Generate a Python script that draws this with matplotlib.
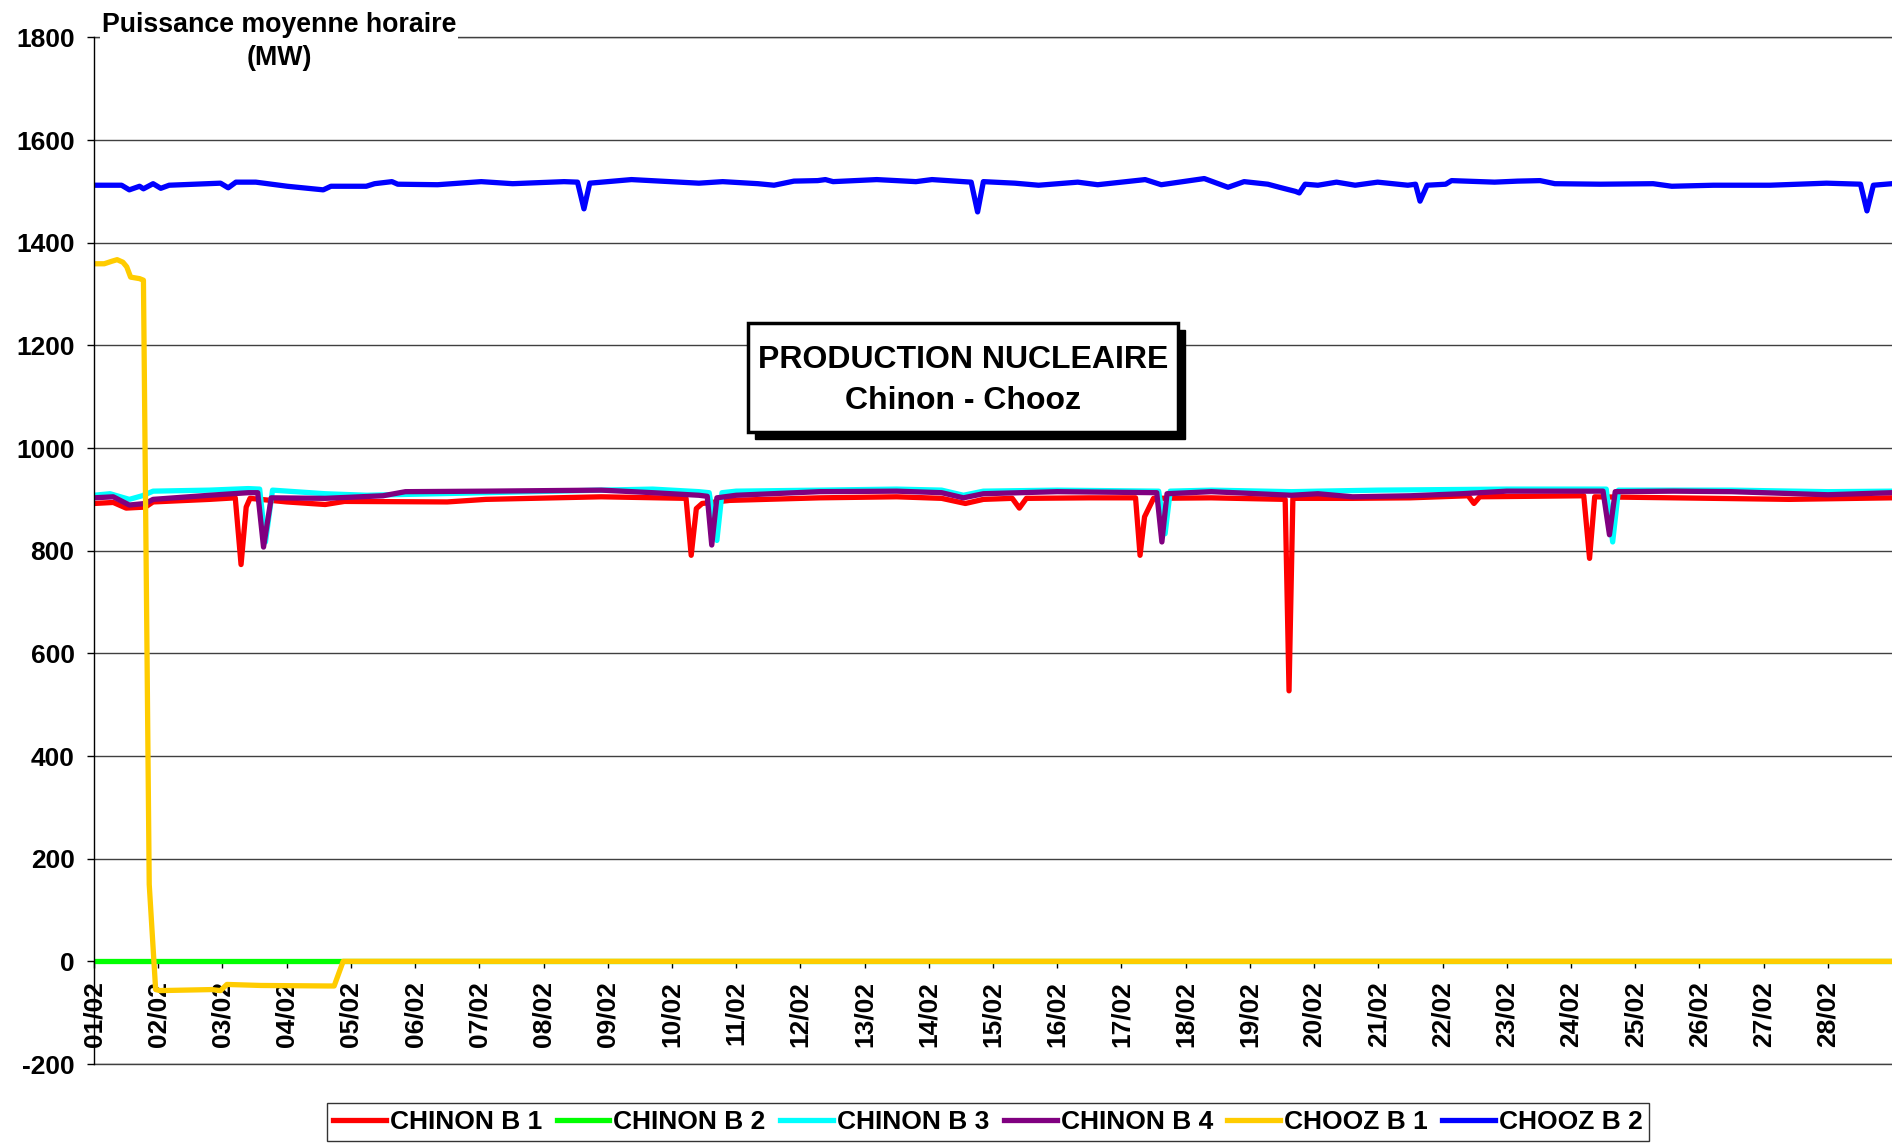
import matplotlib.pyplot as plt
from matplotlib.patches import Rectangle

plt.rcParams["font.family"] = ["Liberation Sans", "DejaVu Sans"]
plt.rcParams["font.weight"] = "bold"

# ── Data (days since 01/02, MW) ──────────────────────────────────
date_labels = [f"{d:02d}/02" for d in range(1, 29)]
y_ticks = [-200, 0, 200, 400, 600, 800, 1000, 1200, 1400, 1600, 1800]

chinon_b1_t = [0, 0.3, 0.5, 0.8, 0.92, 1.8, 2.2, 2.29, 2.37, 2.43, 3.0, 3.6, 3.9, 5.5, 6.1,
               7.9, 9.22, 9.30, 9.38, 9.47, 9.9, 11.3, 12.5, 13.2, 13.57, 13.85, 14.3, 14.41,
               14.52, 15.5, 16.22, 16.29, 16.36, 16.5, 17.4, 18.55, 18.61, 18.67, 19.6, 20.5,
               21.4, 21.49, 21.58, 23.2, 23.29, 23.37, 24.6, 26.4, 28]
chinon_b1_mw = [892, 894, 883, 885, 895, 900, 903, 773, 885, 902, 895, 890, 896, 895, 900,
                905, 902, 791, 882, 892, 898, 903, 905, 902, 892, 900, 902, 883,
                902, 903, 903, 791, 866, 902, 903, 900, 527, 902, 902, 903,
                907, 892, 905, 907, 785, 905, 903, 900, 903]

chinon_b2_t = [0, 28]
chinon_b2_mw = [0, 0]

chinon_b3_t = [0, 0.25, 0.55, 0.75, 0.92, 1.8, 2.4, 2.58, 2.67, 2.78, 3.6, 4.25, 5.0, 6.1,
               7.9, 8.7, 9.42, 9.58, 9.70, 9.78, 10.0, 11.3, 12.5, 13.2, 13.54, 13.85, 15.0,
               16.58, 16.68, 16.76, 17.4, 18.65, 19.06, 20.0, 22.0, 23.55, 23.65, 23.74,
               25.5, 27.0, 28]
chinon_b3_mw = [908, 911, 900, 907, 916, 918, 921, 920, 817, 918, 911, 908, 910, 913,
                918, 920, 915, 913, 820, 913, 916, 918, 920, 918, 908, 916, 918,
                916, 833, 916, 918, 915, 916, 918, 920, 920, 817, 918,
                918, 915, 916]

chinon_b4_t = [0, 0.3, 0.55, 0.8, 0.92, 1.8, 2.4, 2.55, 2.64, 2.76, 3.6, 4.5, 4.85, 6.1,
               7.9, 8.7, 9.42, 9.55, 9.62, 9.70, 10.0, 11.3, 12.5, 13.2, 13.54, 13.85, 15.0,
               16.55, 16.63, 16.71, 17.4, 18.65, 19.06, 19.6, 20.5, 21.3, 22.0, 23.5, 23.60,
               23.69, 24.6, 25.5, 27.0, 28]
chinon_b4_mw = [903, 905, 889, 892, 900, 908, 913, 913, 807, 903, 902, 907, 915, 916,
                918, 913, 908, 906, 811, 903, 908, 915, 916, 913, 903, 911, 915,
                913, 817, 911, 915, 908, 911, 905, 907, 911, 916, 916, 831,
                915, 916, 915, 909, 913]

chooz_b1_t = [0, 0.16, 0.28, 0.36, 0.45, 0.51, 0.57, 0.71, 0.77, 0.86, 0.96, 1.03, 1.83,
              1.97, 2.07, 2.6, 3.64, 3.74, 3.88, 28]
chooz_b1_mw = [1359, 1359, 1364, 1367, 1362, 1353, 1333, 1330, 1327, 150, -55, -57, -55,
               -57, -45, -47, -48, -48, 0, 0]

chooz_b2_t = [0, 0.43, 0.55, 0.71, 0.77, 0.92, 1.04, 1.17, 1.97, 2.09, 2.21, 2.52, 3.01,
              3.57, 3.69, 4.24, 4.37, 4.64, 4.73, 5.35, 6.03, 6.52, 7.32, 7.53, 7.63, 7.72,
              8.37, 9.42, 9.79, 10.34, 10.59, 10.90, 11.27, 11.39, 11.51, 12.19, 12.80,
              13.05, 13.66, 13.76, 13.85, 14.34, 14.71, 15.32, 15.63, 16.37, 16.62, 17.29,
              17.66, 17.91, 18.28, 18.46, 18.71, 18.77, 18.86, 19.06, 19.35, 19.64, 19.99,
              20.46, 20.58, 20.65, 20.76, 21.05, 21.14, 21.81, 22.17, 22.52, 22.75, 23.46,
              24.28, 24.57, 25.22, 26.10, 26.98, 27.51, 27.61, 27.71, 28.0]
chooz_b2_mw = [1512, 1512, 1503, 1510, 1505, 1515, 1506, 1512, 1516, 1507, 1518, 1518, 1510,
               1503, 1510, 1510, 1515, 1519, 1514, 1513, 1519, 1515, 1519, 1518, 1466, 1516,
               1523, 1516, 1519, 1515, 1512, 1520, 1521, 1523, 1519, 1523, 1519,
               1523, 1518, 1460, 1519, 1516, 1512, 1518, 1513, 1523, 1513, 1525,
               1508, 1519, 1514, 1508, 1500, 1497, 1514, 1512, 1518, 1512, 1518,
               1512, 1514, 1481, 1512, 1514, 1521, 1518, 1520, 1521, 1515, 1514,
               1515, 1510, 1512, 1512, 1516, 1514, 1462, 1512, 1515]

series = [
    ("CHINON B 1", chinon_b1_t, chinon_b1_mw, "#FF0000"),
    ("CHINON B 2", chinon_b2_t, chinon_b2_mw, "#00FF00"),
    ("CHINON B 3", chinon_b3_t, chinon_b3_mw, "#00FFFF"),
    ("CHINON B 4", chinon_b4_t, chinon_b4_mw, "#800080"),
    ("CHOOZ B 1", chooz_b1_t, chooz_b1_mw, "#FFCC00"),
    ("CHOOZ B 2", chooz_b2_t, chooz_b2_mw, "#0000FF"),
]

# ── Figure ───────────────────────────────────────────────────────
W, H = 1892, 1144
fig = plt.figure(figsize=(W / 100, H / 100), dpi=100)
ax = fig.add_axes([94 / W, 1 - 1064 / H, 1 - 94 / W, (1064 - 37.4) / H])

# x axis crosses at 0 (set before the labels, it resets the ticks)
ax.spines[["top", "right"]].set_visible(False)
ax.spines["bottom"].set_position(("data", 0))
ax.spines["bottom"].set_zorder(0.5)
ax.spines["left"].set_linewidth(1.0)

for name, t, mw, color in series:
    ax.plot(t, mw, color=color, lw=3.8, label=name, solid_joinstyle="round")

ax.set_xlim(0, 28)
ax.set_ylim(-200, 1800)
ax.set_yticks(y_ticks)
ax.set_yticklabels([str(v) for v in y_ticks], fontsize=19, fontweight="bold")
ax.set_xticks(range(28))
ax.set_xticklabels(date_labels, rotation=90, fontsize=19, fontweight="bold")
ax.tick_params(axis="y", direction="out", length=5, width=1, pad=9)
ax.tick_params(axis="x", direction="out", length=5, width=1, pad=9)

ax.grid(axis="y", color="#404040", lw=1.0)
ax.set_axisbelow(True)
for yb in (-200, 1800):
    ax.axhline(yb, color="#404040", lw=1.0, clip_on=False, zorder=0.4)

# y-axis title with white background over the top gridline
fig.text(279 / W, 1 - 41.5 / H, "Puissance moyenne horaire\n(MW)", ha="center", va="center",
         fontsize=19.3, fontweight="bold", linespacing=1.38,
         bbox=dict(facecolor="white", edgecolor="none", pad=1), zorder=8)

# title box with shadow
bx0, by0, bx1, by1 = 748, 323, 1178, 432
fig.add_artist(Rectangle(((bx0 + 7) / W, 1 - (by1 + 7) / H), (bx1 - bx0) / W, (by1 - by0) / H,
                         transform=fig.transFigure, facecolor="black", edgecolor="black", zorder=5))
fig.add_artist(Rectangle((bx0 / W, 1 - by1 / H), (bx1 - bx0) / W, (by1 - by0) / H,
                         transform=fig.transFigure, facecolor="white", edgecolor="black",
                         lw=2.5, zorder=6))
fig.text(963 / W, 1 - 360 / H, "PRODUCTION NUCLEAIRE", ha="center", va="center",
         fontsize=23, fontweight="bold", zorder=7)
fig.text(963 / W, 1 - 401 / H, "Chinon - Chooz", ha="center", va="center",
         fontsize=23, fontweight="bold", zorder=7)

leg = fig.legend(loc="center", bbox_to_anchor=(988 / W, 1 - 1122 / H), ncol=6,
                 fontsize=19, frameon=True, fancybox=False, handlelength=2.0,
                 handletextpad=0.15, columnspacing=0.55, borderpad=0.25)
leg.get_frame().set_edgecolor("black")
leg.get_frame().set_linewidth(1.0)
for txt in leg.get_texts():
    txt.set_fontweight("bold")

plt.savefig("out.png", dpi=100)
